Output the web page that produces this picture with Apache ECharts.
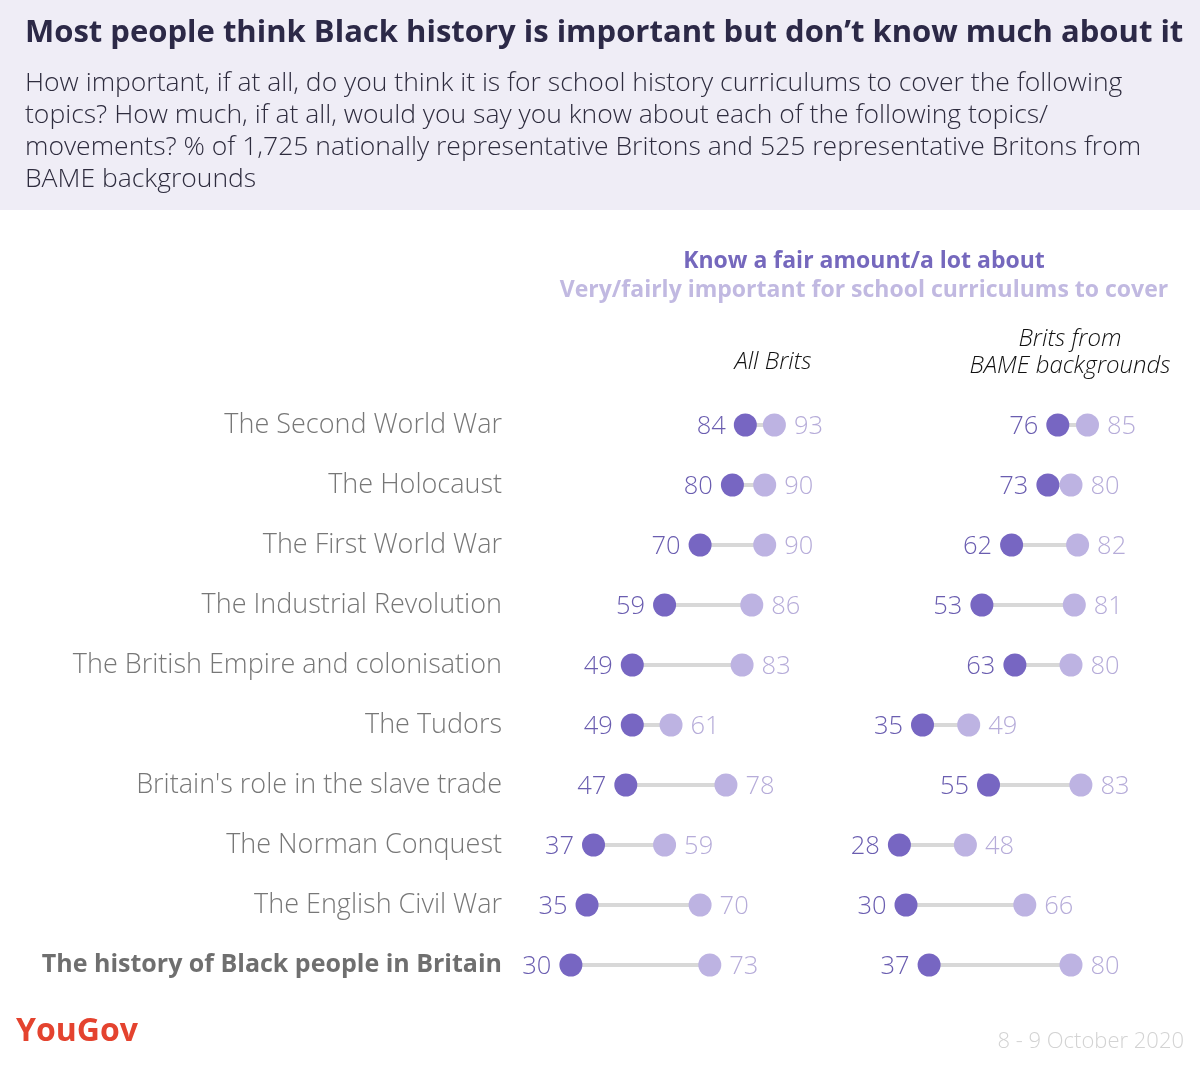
<!DOCTYPE html>
<html><head><meta charset="utf-8">
<script src="https://cdn.jsdelivr.net/npm/echarts@6/dist/echarts.min.js"></script>
<style>html,body{margin:0;padding:0;background:#fff}#c{width:1200px;height:1066px}</style>
</head><body><div id="c"></div>
<script>
const categories = ["The Second World War","The Holocaust","The First World War","The Industrial Revolution","The British Empire and colonisation","The Tudors","Britain's role in the slave trade","The Norman Conquest","The English Civil War","The history of Black people in Britain"];
const allKnow = [84,80,70,59,49,49,47,37,35,30];
const allImportant = [93,90,90,86,83,61,78,59,70,73];
const bameKnow = [76,73,62,53,63,35,55,28,30,37];
const bameImportant = [85,80,82,81,80,49,83,48,66,80];

const DARK = '#7766c2', LIGHT = '#bdb3e2', LINE = '#d8d8d8';
const DARK_TXT = '#6a5db0', LIGHT_TXT = '#b6acd9';
const FONT = '"Open Sans", Lato, sans-serif';

function lineSeries(idx, a, b){
  return {
    type:'custom', xAxisIndex:idx, yAxisIndex:idx, silent:true, z:1,
    data: a.map((v,i)=>[v,b[i],i]),
    renderItem:(params, api)=>{
      const p1 = api.coord([api.value(0), api.value(2)]);
      const p2 = api.coord([api.value(1), api.value(2)]);
      return {type:'line', shape:{x1:p1[0],y1:p1[1],x2:p2[0],y2:p2[1]}, style:{stroke:LINE, lineWidth:4}};
    },
    encode:{x:[0,1], y:2}
  };
}
function dotSeries(idx, vals, color, txtColor, pos){
  return {
    type:'scatter', xAxisIndex:idx, yAxisIndex:idx, z:3, symbolSize:23, silent:true,
    itemStyle:{color:color, opacity:1},
    label:{show:true, position:pos, distance:8, offset:[0,2], color:txtColor, fontSize:25.5, fontFamily:FONT, fontWeight:300, formatter:p=>p.value[0]},
    data: vals.map((v,i)=>[v,i])
  };
}

const chart = echarts.init(document.getElementById('c'));
chart.setOption({
  animation:false,
  backgroundColor:'#fff',
  grid:[
    {left:474, width:323, top:395, height:600},
    {left:807, width:330, top:395, height:600}
  ],
  xAxis:[
    {gridIndex:0, type:'value', min:0, max:100, show:false},
    {gridIndex:1, type:'value', min:0, max:100, show:false}
  ],
  yAxis:[
    {gridIndex:0, type:'category', inverse:true, data:categories, offset:-28,
     axisLine:{show:false}, axisTick:{show:false}, splitLine:{show:false},
     axisLabel:{margin:0, fontSize:27, fontFamily:FONT, fontWeight:300, color:'#777777',
       formatter:(v)=> v==='The history of Black people in Britain' ? '{b|'+v+'}' : v,
       rich:{b:{fontWeight:'bold', fontSize:25, fontFamily:FONT, color:'#6f6f6f'}}}},
    {gridIndex:1, type:'category', inverse:true, data:categories, show:false}
  ],
  graphic:[
    {type:'rect', shape:{x:0,y:0,width:1200,height:210}, style:{fill:'#efedf6'}, z:-1},
    {type:'text', left:25, top:18, style:{text:'Most people think Black history is important but don\u2019t know much about it', font:'bold 31px '+FONT, fill:'#2c2947'}},
    {type:'text', left:25, top:67, style:{text:'How important, if at all, do you think it is for school history curriculums to cover the following\ntopics? How much, if at all, would you say you know about each of the following topics/\nmovements? % of 1,725 nationally representative Britons and 525 representative Britons from\nBAME backgrounds', font:'300 26.5px '+FONT, fill:'#2e2c3e', lineHeight:32}},
    {type:'text', x:864, y:261, style:{text:'Know a fair amount/a lot about', font:'bold 23px '+FONT, fill:'#7568bd', align:'center', verticalAlign:'middle'}},
    {type:'text', x:864, y:290, style:{text:'Very/fairly important for school curriculums to cover', font:'bold 23px '+FONT, fill:'#c1b9e1', align:'center', verticalAlign:'middle'}},
    {type:'text', x:773, y:362, style:{text:'All Brits', font:'italic 300 24px '+FONT, fill:'#111', align:'center', verticalAlign:'middle'}},
    {type:'text', x:1070, y:353, style:{text:'Brits from\nBAME backgrounds', font:'italic 300 24px '+FONT, fill:'#111', align:'center', verticalAlign:'middle', lineHeight:27}},
    {type:'text', left:16, top:1016, style:{text:'YouGov', font:'bold 32px '+FONT, fill:'#e4432f'}},
    {type:'text', right:16, top:1031, style:{text:'8 - 9 October 2020', font:'300 22px '+FONT, fill:'#d3d3d3'}}
  ],
  series:[
    lineSeries(0, allKnow, allImportant),
    dotSeries(0, allKnow, DARK, DARK_TXT, 'left'),
    dotSeries(0, allImportant, LIGHT, LIGHT_TXT, 'right'),
    lineSeries(1, bameKnow, bameImportant),
    dotSeries(1, bameKnow, DARK, DARK_TXT, 'left'),
    dotSeries(1, bameImportant, LIGHT, LIGHT_TXT, 'right')
  ]
});
</script></body></html>
